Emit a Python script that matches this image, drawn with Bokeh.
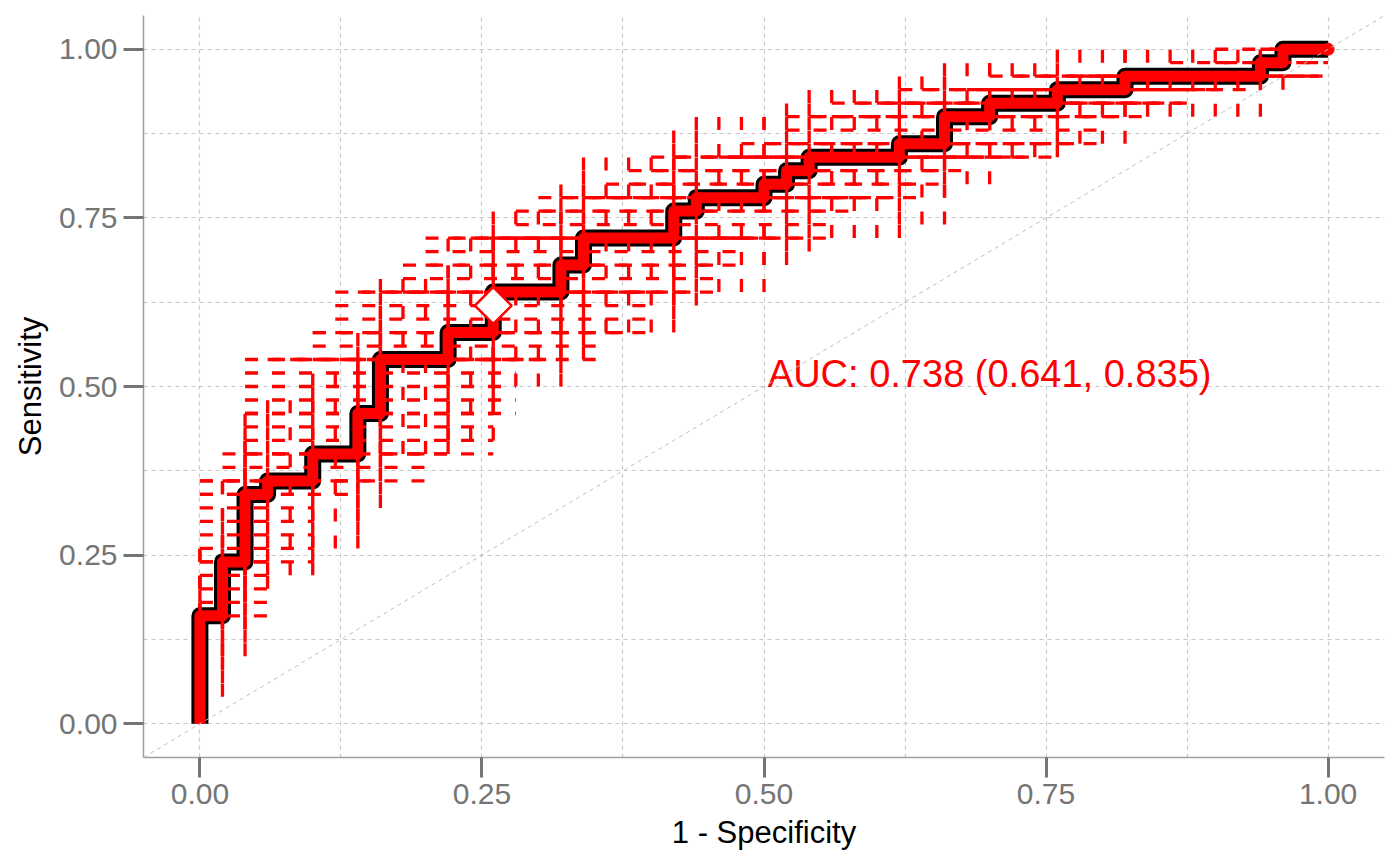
from bokeh.plotting import figure
from bokeh.models import Range1d, FixedTicker, NumeralTickFormatter, Slope, ColumnDataSource
from bokeh.core.properties import value
from bokeh.embed import file_html
from bokeh.resources import INLINE

# empirical ROC points (one per threshold), 50 positives / 50 negatives
fpr = [0.00, 0.00, 0.00, 0.00, 0.00, 0.00, 0.00, 0.00, 0.00,
       0.02, 0.02, 0.02, 0.02, 0.02,
       0.04, 0.04, 0.04, 0.04, 0.04, 0.04,
       0.06, 0.06,
       0.08, 0.10, 0.10, 0.10,
       0.12, 0.14, 0.14, 0.14, 0.14,
       0.16, 0.16, 0.16, 0.16, 0.16,
       0.18, 0.20, 0.22, 0.22, 0.22,
       0.24, 0.26, 0.26, 0.26, 0.26,
       0.28, 0.30, 0.32, 0.32, 0.32,
       0.34, 0.34, 0.34,
       0.36, 0.38, 0.40, 0.42, 0.42, 0.42,
       0.44, 0.44,
       0.46, 0.48, 0.50, 0.50,
       0.52, 0.52,
       0.54, 0.54,
       0.56, 0.58, 0.60, 0.62, 0.62,
       0.64, 0.66, 0.66, 0.66,
       0.68, 0.70, 0.70,
       0.72, 0.74, 0.76, 0.76,
       0.78, 0.80, 0.82, 0.82,
       0.84, 0.86, 0.88, 0.90, 0.92, 0.94, 0.94,
       0.96, 0.96,
       0.98, 1.00]
tpr = [0.00, 0.02, 0.04, 0.06, 0.08, 0.10, 0.12, 0.14, 0.16,
       0.16, 0.18, 0.20, 0.22, 0.24,
       0.24, 0.26, 0.28, 0.30, 0.32, 0.34,
       0.34, 0.36,
       0.36, 0.36, 0.38, 0.40,
       0.40, 0.40, 0.42, 0.44, 0.46,
       0.46, 0.48, 0.50, 0.52, 0.54,
       0.54, 0.54, 0.54, 0.56, 0.58,
       0.58, 0.58, 0.60, 0.62, 0.64,
       0.64, 0.64, 0.64, 0.66, 0.68,
       0.68, 0.70, 0.72,
       0.72, 0.72, 0.72, 0.72, 0.74, 0.76,
       0.76, 0.78,
       0.78, 0.78, 0.78, 0.80,
       0.80, 0.82,
       0.82, 0.84,
       0.84, 0.84, 0.84, 0.84, 0.86,
       0.86, 0.86, 0.88, 0.90,
       0.90, 0.90, 0.92,
       0.92, 0.92, 0.92, 0.94,
       0.94, 0.94, 0.94, 0.96,
       0.96, 0.96, 0.96, 0.96, 0.96, 0.96, 0.98,
       0.98, 1.00,
       1.00, 1.00]

# bootstrap 95% interval for a proportion at each level (k/50)
ci_p = [0.00, 0.02, 0.04, 0.06, 0.08, 0.10, 0.12, 0.14, 0.16, 0.18,
        0.20, 0.22, 0.24, 0.26, 0.28, 0.30, 0.32, 0.34, 0.36, 0.38,
        0.40, 0.42, 0.44, 0.46, 0.48, 0.50, 0.52, 0.54, 0.56, 0.58,
        0.60, 0.62, 0.64, 0.66, 0.68, 0.70, 0.72, 0.74, 0.76, 0.78,
        0.80, 0.82, 0.84, 0.86, 0.88, 0.90, 0.92, 0.94, 0.96, 0.98, 1.00]
ci_lo = [0.00, 0.00, 0.00, 0.00, 0.00, 0.02, 0.04, 0.04, 0.04, 0.06,
         0.08, 0.10, 0.10, 0.12, 0.14, 0.16, 0.18, 0.20, 0.22, 0.24,
         0.26, 0.28, 0.30, 0.32, 0.34, 0.36, 0.38, 0.40, 0.42, 0.42,
         0.46, 0.48, 0.50, 0.52, 0.54, 0.56, 0.58, 0.60, 0.62, 0.64,
         0.68, 0.70, 0.72, 0.74, 0.78, 0.80, 0.84, 0.86, 0.90, 0.94, 1.00]
ci_hi = [0.00, 0.06, 0.10, 0.14, 0.16, 0.20, 0.22, 0.26, 0.28, 0.30,
         0.32, 0.36, 0.38, 0.40, 0.42, 0.44, 0.46, 0.48, 0.50, 0.52,
         0.54, 0.56, 0.58, 0.60, 0.62, 0.64, 0.66, 0.68, 0.70, 0.72,
         0.74, 0.76, 0.78, 0.80, 0.82, 0.84, 0.86, 0.88, 0.88, 0.90,
         0.92, 0.94, 0.96, 0.96, 0.98, 0.98, 1.00, 1.00, 1.00, 1.00, 1.00]

auc, auc_lo, auc_hi = 0.738, 0.641, 0.835
best_fpr, best_tpr = 0.26, 0.62
ticks = [0.0, 0.25, 0.5, 0.75, 1.0]
minor = [0.125, 0.375, 0.625, 0.875]

RED = "#FF0000"
ci = {round(p, 2): (lo, hi) for p, lo, hi in zip(ci_p, ci_lo, ci_hi)}

vx, vy0, vy1 = [], [], []
hy, hx0, hx1 = [], [], []
for x, y in zip(fpr, tpr):
    ylo, yhi = ci[round(y, 2)]
    xlo, xhi = ci[round(x, 2)]
    if yhi > ylo:
        vx.append(x); vy0.append(ylo); vy1.append(yhi)
    if xhi > xlo:
        hy.append(y); hx0.append(xlo); hx1.append(xhi)

p = figure(width=1392, height=858, output_backend="svg", toolbar_location=None,
           x_range=Range1d(-0.05, 1.05), y_range=Range1d(-0.05, 1.05),
           x_axis_label="1 - Specificity", y_axis_label="Sensitivity")
p.min_border_left = 143
p.min_border_right = 8
p.min_border_top = 15
p.min_border_bottom = 101
p.outline_line_color = None
p.background_fill_color = "white"

for ax in (p.xaxis, p.yaxis):
    ax.ticker = FixedTicker(ticks=ticks, minor_ticks=minor)
    ax.formatter = NumeralTickFormatter(format="0.00")
    ax.axis_line_color = "#9E9E9E"
    ax.axis_line_width = 1.5
    ax.major_tick_line_color = "#757575"
    ax.major_tick_line_width = 3
    ax.major_tick_out = 20
    ax.major_tick_in = 0
    ax.minor_tick_out = 0
    ax.minor_tick_in = 0
    ax.major_label_text_font = "Liberation Sans"
    ax.major_label_text_font_size = "30px"
    ax.major_label_text_color = "#757575"
    ax.major_label_standoff = 6
    ax.axis_label_text_font = "Liberation Sans"
    ax.axis_label_text_font_size = "31px"
    ax.axis_label_text_font_style = "normal"
    ax.axis_label_text_color = "black"
    ax.axis_label_standoff = 8

for g in (p.xgrid, p.ygrid):
    g.ticker = FixedTicker(ticks=ticks, minor_ticks=minor)
    g.grid_line_color = "#C8C8C8"
    g.grid_line_dash = "4 4"
    g.grid_line_width = 1.2
    g.minor_grid_line_color = "#C8C8C8"
    g.minor_grid_line_dash = "4 4"
    g.minor_grid_line_width = 1.2

p.add_layout(Slope(gradient=1, y_intercept=0, line_color="#BEBEBE",
                   line_dash="4 4", line_width=1))

curve = ColumnDataSource(dict(x=fpr, y=tpr))
p.line("x", "y", source=curve, line_color="black", line_width=17,
       line_join="round", line_cap="butt")
p.line("x", "y", source=curve, line_color=RED, line_width=11,
       line_join="round", line_cap="butt")
p.scatter(x=fpr[-1:], y=tpr[-1:], size=12, color=RED)

p.segment(x0=vx, y0=vy0, x1=vx, y1=vy1, line_color=RED, line_width=3.3,
          line_dash="13 14")
p.segment(x0=hx0, y0=hy, x1=hx1, y1=hy, line_color=RED, line_width=3.3,
          line_dash="13 14")

p.scatter(x=[best_fpr], y=[best_tpr], marker="square", angle=0.785398,
          size=26, fill_color="white", line_color=RED, line_width=2.5)

p.text(x=[0.70], y=[0.518], text=[f"AUC: {auc:.3f} ({auc_lo:.3f}, {auc_hi:.3f})"],
       text_align="center", text_baseline="alphabetic", text_color=RED,
       text_font=value("Liberation Sans"), text_font_size="38px")

open("out.html", "w").write(file_html(p, INLINE))
